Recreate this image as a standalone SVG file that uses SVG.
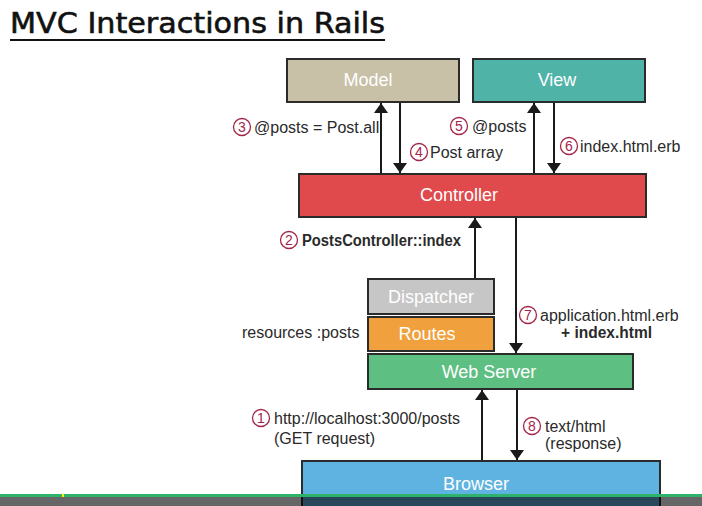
<svg xmlns="http://www.w3.org/2000/svg" width="702" height="506" viewBox="0 0 702 506">
<defs>
<marker id="ah" viewBox="0 0 10 14" refX="10" refY="7" markerWidth="10" markerHeight="14" markerUnits="userSpaceOnUse" orient="auto">
<path d="M0,0 L10,7 L0,14 Z" fill="#1a1a1a"/>
</marker>
<style>
.box{stroke:#2b2b2b;stroke-width:2}
.bl{font-family:"Liberation Sans",Arial,sans-serif;font-size:18px;fill:#ffffff;text-anchor:middle}
.lb{font-family:"Liberation Sans",Arial,sans-serif;font-size:16px;fill:#2a2a2a}
.num{font-family:"Liberation Sans",Arial,sans-serif;font-size:14px;fill:#a3264a;text-anchor:middle}
.circ{fill:none;stroke:#a3264a;stroke-width:1.3}
.conn{stroke:#1a1a1a;stroke-width:2;fill:none;marker-end:url(#ah)}
</style>
</defs>
<rect width="702" height="506" fill="#ffffff"/>
<text x="10" y="33" font-family="'DejaVu Sans',sans-serif" font-size="28" fill="#111" stroke="#111" stroke-width="0.6" textLength="375" lengthAdjust="spacingAndGlyphs">MVC Interactions in Rails</text>
<line x1="10" y1="40" x2="385" y2="40" stroke="#111" stroke-width="2"/>

<g id="connectors">
<line class="conn" x1="381" y1="174" x2="381" y2="103"/>
<line class="conn" x1="400" y1="102" x2="400" y2="173"/>
<line class="conn" x1="534" y1="174" x2="534" y2="103"/>
<line class="conn" x1="554" y1="102" x2="554" y2="173"/>
<line class="conn" x1="475" y1="279" x2="475" y2="218"/>
<line class="conn" x1="516" y1="217" x2="516" y2="353"/>
<line class="conn" x1="482" y1="461" x2="482" y2="390"/>
<line class="conn" x1="517" y1="389" x2="517" y2="460"/>
</g>

<g id="model"><rect class="box" x="287" y="59" width="172" height="43" fill="#c9c0a8"/><text class="bl" x="368" y="86">Model</text></g>
<g id="view"><rect class="box" x="473" y="59" width="172" height="43" fill="#4fb3a8"/><text class="bl" x="557" y="86">View</text></g>
<g id="controller"><rect class="box" x="299" y="174" width="347" height="43" fill="#e04a4c"/><text class="bl" x="459" y="201">Controller</text></g>
<g id="dispatcher"><rect class="box" x="368" y="279" width="126" height="35" fill="#c6c6c6"/><text class="bl" x="431" y="303">Dispatcher</text></g>
<g id="routes"><rect class="box" x="368" y="317" width="126" height="34" fill="#f0a03c"/><text class="bl" x="427" y="340">Routes</text></g>
<g id="webserver"><rect class="box" x="368" y="354" width="265" height="35" fill="#5ebf82"/><text class="bl" x="489" y="378">Web Server</text></g>
<g id="browser"><rect class="box" x="302" y="461" width="358" height="50" fill="#5fb3e0"/><text class="bl" x="476" y="490">Browser</text></g>

<g id="labels">
<circle class="circ" cx="242" cy="127" r="8.5"/><text class="num" x="242" y="132">3</text>
<text class="lb" x="254" y="133">@posts = Post.all</text>
<circle class="circ" cx="419" cy="152" r="8.5"/><text class="num" x="419" y="157">4</text>
<text class="lb" x="430" y="158">Post array</text>
<circle class="circ" cx="459" cy="126" r="8.5"/><text class="num" x="459" y="131">5</text>
<text class="lb" x="472" y="132">@posts</text>
<circle class="circ" cx="569" cy="146" r="8.5"/><text class="num" x="569" y="151">6</text>
<text class="lb" x="580" y="152">index.html.erb</text>
<circle class="circ" cx="289" cy="240" r="8.5"/><text class="num" x="289" y="245">2</text>
<text class="lb" x="302" y="246" font-weight="bold" textLength="159" lengthAdjust="spacingAndGlyphs">PostsController::index</text>
<text class="lb" x="242" y="338">resources :posts</text>
<circle class="circ" cx="528" cy="315" r="8.5"/><text class="num" x="528" y="320">7</text>
<text class="lb" x="540" y="321">application.html.erb</text>
<text class="lb" x="561" y="338" font-weight="bold" textLength="91" lengthAdjust="spacingAndGlyphs">+ index.html</text>
<circle class="circ" cx="261" cy="418" r="8.5"/><text class="num" x="261" y="423">1</text>
<text class="lb" x="274" y="424">http://localhost:3000/posts</text>
<text class="lb" x="274" y="444">(GET request)</text>
<circle class="circ" cx="532" cy="426" r="8.5"/><text class="num" x="532" y="431">8</text>
<text class="lb" x="545" y="432">text/html</text>
<text class="lb" x="545" y="449">(response)</text>
</g>

<rect x="0" y="497" width="702" height="9" fill="#000" fill-opacity="0.6"/>
<rect x="0" y="494" width="702" height="3" fill="#2eb36b"/>
<rect x="62" y="494" width="2" height="3" fill="#ffee00"/>
</svg>
